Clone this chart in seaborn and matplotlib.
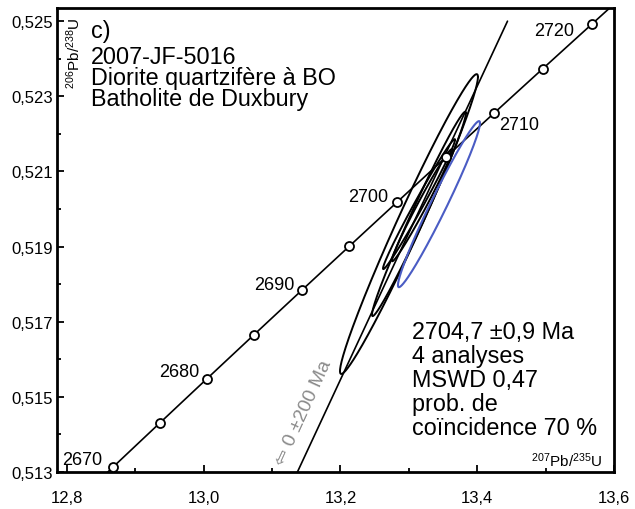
import numpy as np
import pandas as pd
import matplotlib
matplotlib.use("Agg")
import matplotlib.pyplot as plt
import seaborn as sns

# ---------------- data ----------------
# decay constants (per Ma)
L238 = 1.55125e-4
L235 = 9.8485e-4

marker_ages = [2670, 2675, 2680, 2685, 2690, 2695, 2700, 2705, 2710, 2715, 2720]
labelled_ages = [2670, 2680, 2690, 2700, 2710, 2720]
curve_age_range = (2665, 2725)

# error ellipses: centre 207Pb/235U, centre 206Pb/238U, half-extent x, half-extent y, rho
ell_x = [13.3002, 13.3148, 13.3149, 13.3192]
ell_y = [0.51960, 0.51987, 0.52013, 0.52010]
ell_sx = [0.1009, 0.0687, 0.0527, 0.0439]
ell_sy = [0.00399, 0.00272, 0.00173, 0.00149]
ell_rho = [0.981, 0.986, 0.990, 0.986]

blue_x, blue_y, blue_sx, blue_sy, blue_rho = 13.3441, 0.52013, 0.0600, 0.00221, 0.976

upper_intercept = 2704.7
lower_intercept = 0.0
discordia_y_range = (0.5125, 0.525)

yticks = [0.513, 0.515, 0.517, 0.519, 0.521, 0.523, 0.525]
ytick_labels = ["0,513", "0,515", "0,517", "0,519", "0,521", "0,523", "0,525"]
xticks = [12.8, 13.0, 13.2, 13.4, 13.6]
xtick_labels = ["12,8", "13,0", "13,2", "13,4", "13,6"]

panel_label = "c)"
title_lines = ["2007-JF-5016", "Diorite quartzifère à BO", "Batholite de Duxbury"]
result_lines = ["2704,7 ±0,9 Ma", "4 analyses", "MSWD 0,47", "prob. de", "coïncidence 70 %"]
intercept_text = "\u21e6 0 ±200 Ma"

# ---------------- style ----------------
sns.set_style("ticks")
plt.rcParams["font.family"] = ["Liberation Sans", "DejaVu Sans"]
plt.rcParams["text.color"] = "black"
plt.rcParams["mathtext.fontset"] = "custom"
plt.rcParams["mathtext.rm"] = "Liberation Sans"
plt.rcParams["mathtext.it"] = "Liberation Sans:italic"
plt.rcParams["mathtext.bf"] = "Liberation Sans:bold"


def conc(t):
    t = np.asarray(t, dtype=float)
    return np.exp(L235 * t) - 1.0, np.exp(L238 * t) - 1.0


fig = plt.figure(figsize=(6.35, 5.1), dpi=100)
ax = fig.add_axes([0.0898, 0.0725, 0.877, 0.9098])

# concordia curve
ages_curve = np.arange(curve_age_range[0], curve_age_range[1] + 1, 1.0)
cx, cy = conc(ages_curve)
sns.lineplot(x=cx, y=cy, ax=ax, color="black", lw=1.2, sort=False, estimator=None, zorder=3)

# discordia
ux, uy = conc(upper_intercept)
lx, ly = conc(lower_intercept)
slope = (uy - ly) / (ux - lx)
dy = np.array(discordia_y_range)
dx = lx + (dy - ly) / slope
sns.lineplot(x=dx, y=dy, ax=ax, color="black", lw=1.2, sort=False, estimator=None, zorder=3)


def ellipse(x0, y0, sx, sy, rho, n=300):
    t = np.linspace(0, 2 * np.pi, n)
    ex = x0 + sx * np.cos(t)
    ey = y0 + sy * (rho * np.cos(t) + np.sqrt(1 - rho ** 2) * np.sin(t))
    return pd.DataFrame({"x": ex, "y": ey})


for x0, y0, sx, sy, r in zip(ell_x, ell_y, ell_sx, ell_sy, ell_rho):
    d = ellipse(x0, y0, sx, sy, r)
    sns.lineplot(data=d, x="x", y="y", ax=ax, color="black", lw=1.4, sort=False,
                 estimator=None, zorder=4)

d = ellipse(blue_x, blue_y, blue_sx, blue_sy, blue_rho)
sns.lineplot(data=d, x="x", y="y", ax=ax, color="#4a5cc4", lw=1.5, sort=False,
             estimator=None, zorder=4)

# age markers
mx, my = conc(marker_ages)
sns.scatterplot(x=mx, y=my, ax=ax, marker="o", s=42, facecolor="white",
                edgecolor="black", linewidth=1.3, zorder=6, legend=False)

label_offsets = {2670: (-11, 7, "right"), 2680: (-8, 7, "right"), 2690: (-7, 6, "right"),
                 2700: (-9, 5, "right"), 2710: (5, -11, "left"), 2720: (-18, -6, "right")}
for a in labelled_ages:
    x, y = conc(a)
    ox, oy, ha = label_offsets[a]
    ax.annotate(str(a), (x, y), xytext=(ox, oy), textcoords="offset pixels",
                ha=ha, va="center", fontsize=13, zorder=7)

# axes
ax.set_xlim(12.7854, 13.6)
ax.set_ylim(0.513, 0.52535)
ax.set_xticks(xticks)
ax.set_xticklabels(xtick_labels)
ax.set_yticks(yticks)
ax.set_yticklabels(ytick_labels)
ax.set_xticks([12.9, 13.1, 13.3, 13.5], minor=True)
ax.set_yticks([0.514, 0.516, 0.518, 0.520, 0.522, 0.524], minor=True)
ax.tick_params(which="both", direction="in", width=1.3, labelsize=12, colors="black")
ax.tick_params(which="major", length=5)
ax.tick_params(which="minor", length=3)
ax.tick_params(axis="x", pad=13)
ax.tick_params(axis="y", pad=3)
for s in ax.spines.values():
    s.set_linewidth(2)
    s.set_color("black")
    s.set_visible(True)
ax.set_xlabel("")
ax.set_ylabel("")

# axis titles inside
ax.text(0.9785, 0.013, r"$^{207}$Pb/$^{235}$U", transform=ax.transAxes, ha="right",
        va="baseline", fontsize=11)
ax.text(0.0466, 0.9806, r"$^{206}$Pb/$^{238}$U", transform=ax.transAxes, ha="right",
        va="top", rotation=90, fontsize=11)

# title block (va='baseline' anchors the last line's baseline)
ax.text(0.061, 0.9375, panel_label, transform=ax.transAxes, ha="left", va="baseline",
        fontsize=16.8)
ax.text(0.061, 0.791, "\n".join(title_lines), transform=ax.transAxes, ha="left",
        va="baseline", fontsize=16.8, linespacing=0.89)

ax.text(0.638, 0.0819, "\n".join(result_lines), transform=ax.transAxes, ha="left",
        va="baseline", fontsize=16.8, linespacing=1.05)

ax.text(13.1466, 0.514596, intercept_text, ha="center", va="center", rotation=65.5,
        rotation_mode="anchor", fontsize=14, color="#8a8a8a")

fig.savefig("out.png", dpi=100)
